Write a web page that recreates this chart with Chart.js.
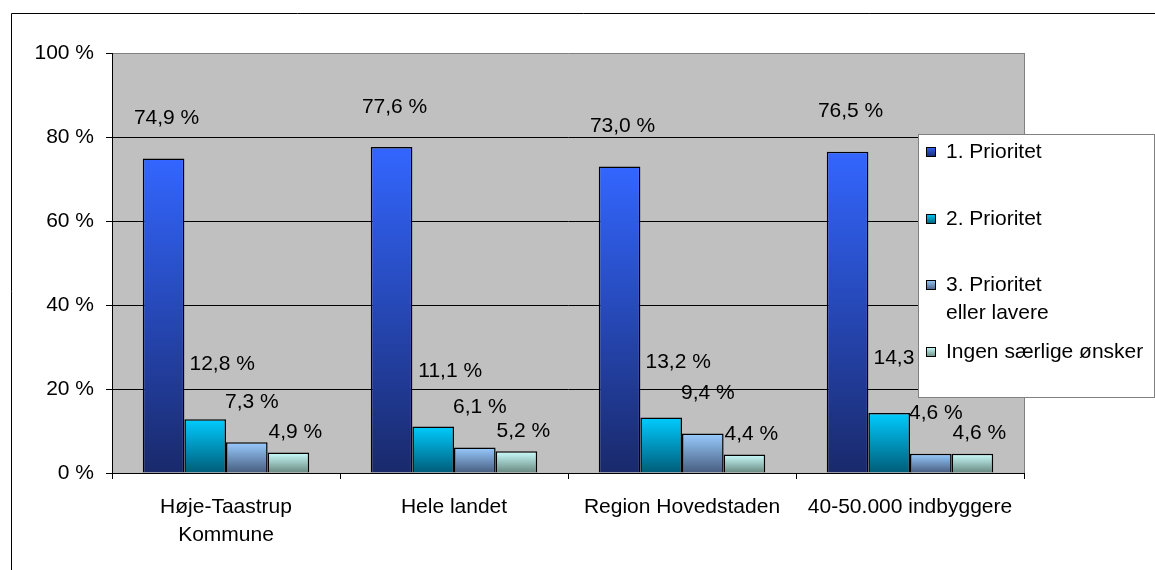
<!DOCTYPE html>
<html>
<head>
<meta charset="utf-8">
<script src="https://cdn.jsdelivr.net/npm/chart.js@4"></script>
<style>
  body { margin: 0; background: #fff; }
  canvas { display: block; }
</style>
</head>
<body>
<canvas id="chart" width="1155" height="570"></canvas>
<script>
const categories = [['Høje-Taastrup', 'Kommune'], 'Hele landet', 'Region Hovedstaden', '40-50.000 indbyggere']
const seriesNames = ['1. Prioritet', '2. Prioritet', ['3. Prioritet', 'eller lavere'], 'Ingen særlige ønsker']
const prio1 = [74.9, 77.6, 73.0, 76.5]
const prio2 = [12.8, 11.1, 13.2, 14.3]
const prio3 = [7.3, 6.1, 9.4, 4.6]
const ingen = [4.9, 5.2, 4.4, 4.6]
const yMin = 0
const yMax = 100
const yStep = 20

// gradient colours per series: [top, bottom]
const shades = [
  ['#3366FF', '#19296B'],
  ['#00CCFF', '#005C78'],
  ['#99CCFF', '#475C7E'],
  ['#CCFFFF', '#67877E']
]
// where the value labels sit relative to the bar top (px)
const labelShift = [[3, -40], [17, -55], [5, -40], [7, -20]]

const FONT = 'Liberation Sans, Arial, sans-serif'
const FSIZE = 21
const fmt = v => v.toFixed(1).replace('.', ',') + ' %'

function barFill(i) {
  return c => {
    const chart = c.chart
    if (!chart.chartArea || c.raw == null) return shades[i][0]
    const y = chart.scales.y
    const g = chart.ctx.createLinearGradient(0, y.getPixelForValue(c.raw), 0, y.getPixelForValue(0))
    g.addColorStop(0, shades[i][0])
    g.addColorStop(1, shades[i][1])
    return g
  }
}

const frame = {
  id: 'frame',
  beforeDraw(chart) {
    const { ctx, chartArea: a } = chart
    ctx.save()
    ctx.fillStyle = '#C0C0C0'
    ctx.fillRect(a.left, a.top, a.right - a.left, a.bottom - a.top)
    ctx.strokeStyle = '#000'
    ctx.lineWidth = 1
    ctx.beginPath()
    ctx.moveTo(11.5, chart.height)
    ctx.lineTo(11.5, 13.5)
    ctx.lineTo(chart.width, 13.5)
    ctx.stroke()
    ctx.strokeStyle = '#808080'
    ctx.beginPath()
    ctx.moveTo(a.right + 0.5, a.top)
    ctx.lineTo(a.right + 0.5, a.bottom)
    ctx.stroke()
    ctx.restore()
  }
}

const valueLabels = {
  id: 'valueLabels',
  afterDatasetsDraw(chart) {
    const ctx = chart.ctx
    ctx.save()
    ctx.font = FSIZE + 'px ' + FONT
    ctx.fillStyle = '#000'
    ctx.textAlign = 'center'
    ctx.textBaseline = 'middle'
    chart.data.datasets.forEach((ds, i) => {
      chart.getDatasetMeta(i).data.forEach((bar, j) => {
        ctx.fillText(fmt(ds.data[j]), bar.x + labelShift[i][0], bar.y + labelShift[i][1])
      })
    })
    ctx.restore()
  }
}

const boxLegend = {
  id: 'boxLegend',
  afterDraw(chart) {
    const ctx = chart.ctx
    const x = 918, y = 134, w = 236, h = 263
    const rows = [152, 219, 285, 352]
    ctx.save()
    ctx.fillStyle = '#fff'
    ctx.fillRect(x, y, w, h)
    ctx.strokeStyle = '#808080'
    ctx.lineWidth = 1
    ctx.strokeRect(x + 0.5, y + 0.5, w, h)
    ctx.font = FSIZE + 'px ' + FONT
    ctx.textBaseline = 'middle'
    seriesNames.forEach((name, i) => {
      const cy = rows[i]
      const g = ctx.createLinearGradient(0, cy - 5, 0, cy + 5)
      g.addColorStop(0, shades[i][0])
      g.addColorStop(1, shades[i][1])
      ctx.fillStyle = g
      ctx.fillRect(926, cy - 5, 10, 10)
      ctx.strokeStyle = '#000'
      ctx.strokeRect(926.5, cy - 4.5, 9, 9)
      ctx.fillStyle = '#000'
      const lines = Array.isArray(name) ? name : [name]
      lines.forEach((t, k) => ctx.fillText(t, 946, cy + k * 28))
    })
    ctx.restore()
  }
}

const datasets = [prio1, prio2, prio3, ingen].map((d, i) => ({
  label: Array.isArray(seriesNames[i]) ? seriesNames[i].join(' ') : seriesNames[i],
  data: d,
  backgroundColor: barFill(i),
  borderColor: '#000',
  borderWidth: 1.5,
  categoryPercentage: 0.73,
  barPercentage: 1.0
}))

new Chart(document.getElementById('chart'), {
  type: 'bar',
  data: { labels: categories, datasets },
  options: {
    responsive: false,
    animation: false,
    layout: { padding: { left: 0, right: 131, top: 53, bottom: 0 } },
    plugins: {
      legend: { display: false },
      tooltip: { enabled: false }
    },
    scales: {
      x: {
        grid: { offset: true, drawOnChartArea: false, drawTicks: true, tickLength: 6, tickColor: '#000' },
        border: { color: '#000', width: 1 },
        ticks: { color: '#000', font: { family: FONT, size: FSIZE, lineHeight: 1.35 }, padding: 14, maxRotation: 0, autoSkip: false },
        afterFit(s) { s.height = 97 }
      },
      y: {
        min: yMin,
        max: yMax,
        grid: {
          color: c => (c.tick && c.tick.value === yMax ? '#808080' : '#000'),
          tickColor: '#000',
          tickLength: 6,
          lineWidth: 1
        },
        border: { color: '#000', width: 1 },
        ticks: {
          stepSize: yStep,
          color: '#000',
          padding: 12,
          font: { family: FONT, size: FSIZE },
          callback: v => v + ' %'
        },
        afterFit(s) { s.width = 112 }
      }
    }
  },
  plugins: [frame, valueLabels, boxLegend]
})
</script>
</body>
</html>
